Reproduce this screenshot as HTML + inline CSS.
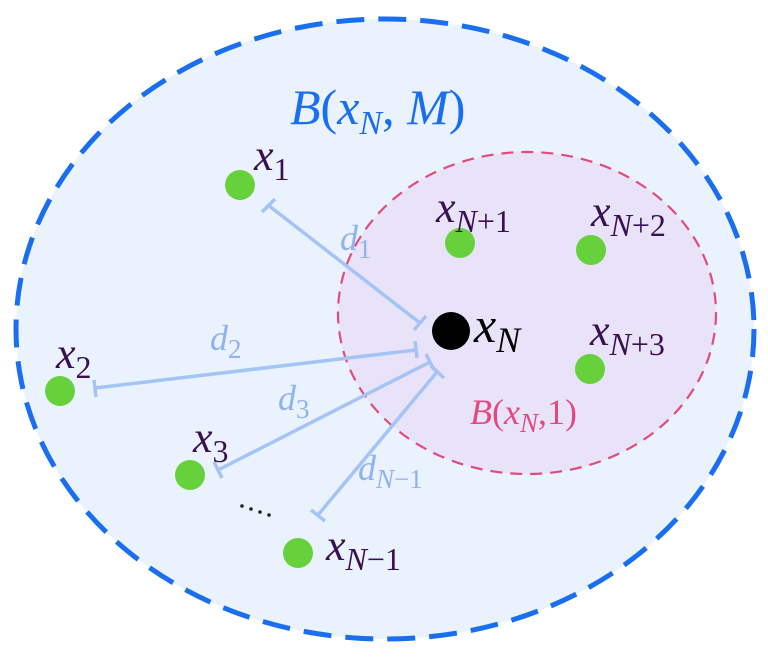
<!DOCTYPE html>
<html><head><style>html,body{margin:0;padding:0;background:#fff}svg{display:block}
text{font-family:"Liberation Serif",serif;font-style:italic}</style></head>
<body>
<svg width="768" height="657" viewBox="0 0 768 657" xmlns="http://www.w3.org/2000/svg">
<ellipse cx="385" cy="329" rx="369" ry="310" fill="#eaf2fd" stroke="#1a6ff0" stroke-width="5" stroke-dasharray="28,14"/>
<ellipse cx="527" cy="313" rx="189" ry="161" fill="#e9e3fa" stroke="#e04a7c" stroke-width="2.2" stroke-dasharray="12,8"/>
<g stroke="#a3c4f5" stroke-width="3.5" fill="none">
<line x1="268" y1="205" x2="420" y2="323"/><line x1="262" y1="212" x2="275" y2="199"/><line x1="414" y1="330" x2="426" y2="316"/>
<line x1="95" y1="388" x2="416" y2="350"/><line x1="94" y1="380" x2="96" y2="397"/><line x1="415" y1="341" x2="417" y2="358"/>
<line x1="218" y1="470" x2="430" y2="362"/><line x1="214" y1="462" x2="222" y2="478"/><line x1="426" y1="354" x2="434" y2="370"/>
<line x1="318" y1="515" x2="437" y2="372"/><line x1="311" y1="510" x2="325" y2="521"/><line x1="431" y1="366" x2="444" y2="378"/>
</g>
<g fill="#66d13a">
<circle cx="240" cy="185" r="15"/><circle cx="460" cy="243" r="15"/><circle cx="591" cy="250" r="15"/>
<circle cx="590" cy="369" r="15"/><circle cx="60" cy="391" r="15"/><circle cx="190" cy="475" r="15"/><circle cx="298" cy="553" r="15"/>
</g>
<circle cx="451" cy="331" r="19" fill="#000"/>
<text x="290" y="124" font-size="50" fill="#1a6ff0" style="font-style:normal"><tspan font-style="italic">B</tspan>(<tspan font-style="italic">x</tspan><tspan font-size="34" dy="10" font-style="italic">N</tspan><tspan dy="-10">, </tspan><tspan font-style="italic">M</tspan>)</text>
<text x="470" y="424" font-size="36" fill="#e04a7c" style="font-style:normal"><tspan font-style="italic">B</tspan>(<tspan font-style="italic">x</tspan><tspan font-size="27" dy="8" font-style="italic">N</tspan><tspan dy="-8">,1)</tspan></text>
<g fill="#3a1050" font-size="44">
<text x="254" y="170">x<tspan font-size="32" dy="10" style="font-style:normal">1</tspan></text>
<text x="436" y="222">x<tspan font-size="32" dy="10" font-style="italic">N</tspan><tspan font-size="32" style="font-style:normal">+1</tspan></text>
<text x="591" y="226">x<tspan font-size="32" dy="10">N</tspan><tspan font-size="32" style="font-style:normal">+2</tspan></text>
<text x="590" y="345">x<tspan font-size="32" dy="10">N</tspan><tspan font-size="32" style="font-style:normal">+3</tspan></text>
<text x="56" y="368">x<tspan font-size="32" dy="10" style="font-style:normal">2</tspan></text>
<text x="193" y="452">x<tspan font-size="32" dy="10" style="font-style:normal">3</tspan></text>
<text x="326" y="560">x<tspan font-size="32" dy="10">N</tspan><tspan font-size="32" style="font-style:normal">−1</tspan></text>
</g>
<text x="474" y="342" font-size="50" fill="#000">x<tspan font-size="36" dy="10">N</tspan></text>
<g fill="#8fb3ee" font-size="36">
<text x="340" y="250">d<tspan font-size="27" dy="8" style="font-style:normal">1</tspan></text>
<text x="210" y="350">d<tspan font-size="27" dy="8" style="font-style:normal">2</tspan></text>
<text x="278" y="410">d<tspan font-size="27" dy="8" style="font-style:normal">3</tspan></text>
<text x="358" y="480">d<tspan font-size="27" dy="8">N</tspan><tspan font-size="27" style="font-style:normal">−1</tspan></text>
</g>
<g fill="#222"><circle cx="242" cy="506" r="1.8"/><circle cx="251" cy="509" r="1.8"/><circle cx="260" cy="512" r="1.8"/><circle cx="269" cy="515" r="1.8"/></g>
</svg>
</body></html>
